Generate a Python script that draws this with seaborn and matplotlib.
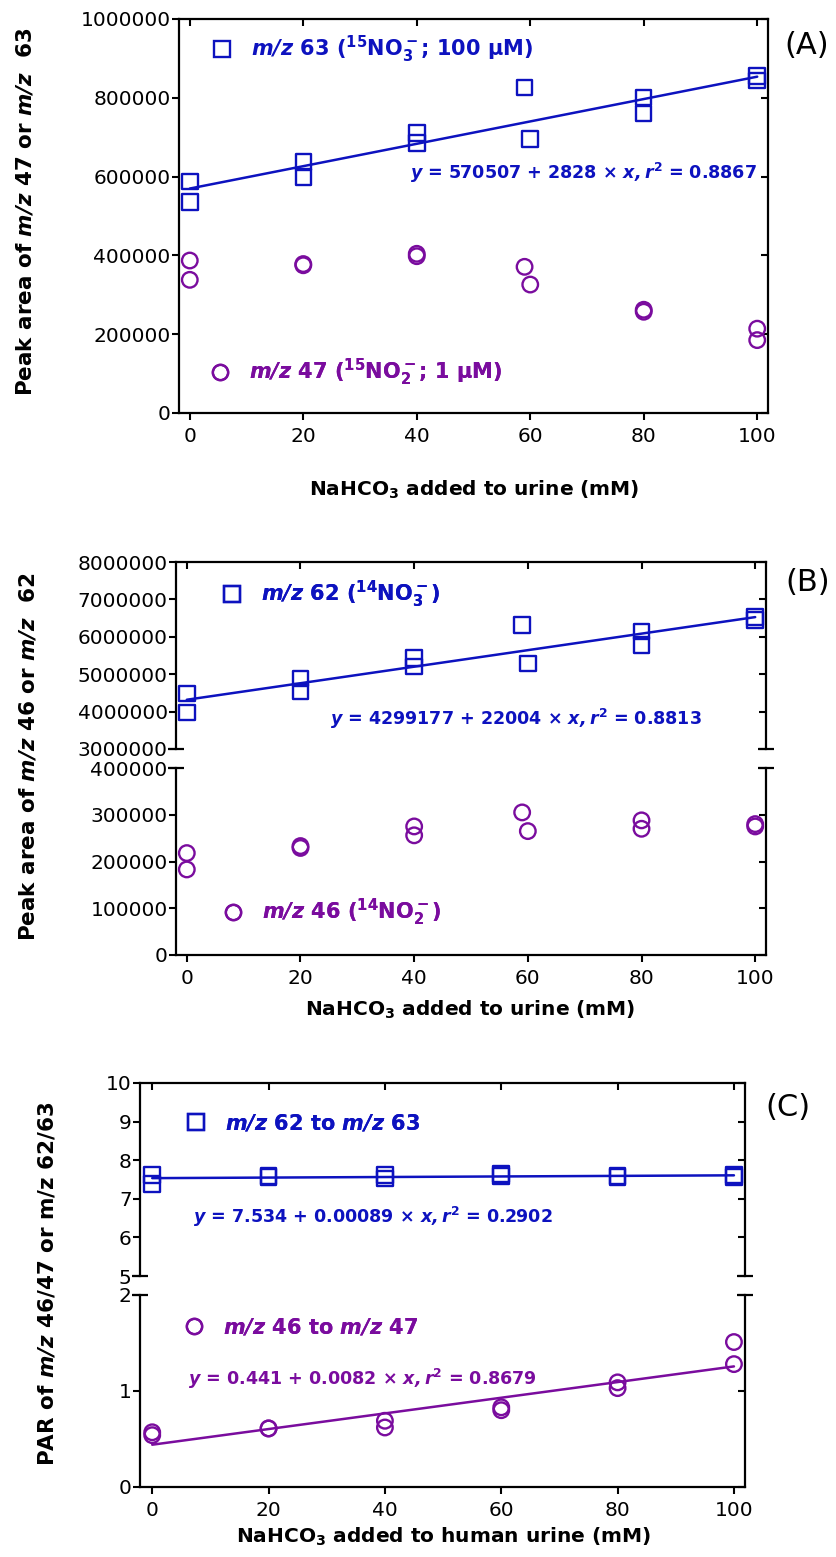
import numpy as np
import pandas as pd
import matplotlib
matplotlib.use('Agg')
import matplotlib.pyplot as plt
from matplotlib.lines import Line2D
from matplotlib.ticker import StrMethodFormatter
import seaborn as sns

# ---- data ----
conc = [0, 0, 20, 20, 40, 40, 59, 60, 80, 80, 100, 100]

# (A) 15N spiked urine
a_mz63 = [588000, 536000, 637000, 599000, 710000, 685000, 826000, 695000, 801000, 760000, 856000, 844000]
a_mz47 = [387000, 338000, 378000, 375000, 404000, 398000, 371000, 326000, 262000, 257000, 214000, 185000]

# (B) endogenous 14N
b_mz62 = [4490000, 3980000, 4890000, 4540000, 5440000, 5200000, 6310000, 5290000, 6140000, 5780000, 6530000, 6450000]
b_mz46 = [218000, 183000, 233000, 229000, 275000, 256000, 305000, 265000, 288000, 270000, 280000, 275000]

# (C) peak area ratios
conc_c = [0, 0, 20, 20, 40, 40, 60, 60, 80, 80, 100, 100]
c_62_63 = [7.62, 7.38, 7.59, 7.56, 7.61, 7.53, 7.64, 7.59, 7.57, 7.59, 7.61, 7.57]
c_46_47 = [0.57, 0.54, 0.61, 0.61, 0.69, 0.62, 0.83, 0.80, 1.09, 1.03, 1.51, 1.28]

x_ticks = [0, 20, 40, 60, 80, 100]

BLUE = '#0D12BF'
PURPLE = '#7A0C9E'

sns.set_theme(style='ticks')
plt.rcParams['font.family'] = ['DejaVu Sans']
plt.rcParams['mathtext.fontset'] = 'dejavusans'
plt.rcParams['mathtext.default'] = 'bf'
plt.rcParams['axes.linewidth'] = 1.6
plt.rcParams['axes.edgecolor'] = 'black'
plt.rcParams['text.color'] = 'black'
plt.rcParams['axes.labelcolor'] = 'black'
plt.rcParams['xtick.color'] = 'black'
plt.rcParams['ytick.color'] = 'black'

W, H = 837, 1557
fig = plt.figure(figsize=(W / 100, H / 100), dpi=100)

LABEL_FS = 15.5
XLAB_FS = 14.5
TICK_FS = 14.5


def px_axes(x0, y0, x1, y1):
    return fig.add_axes([x0 / W, 1 - y1 / H, (x1 - x0) / W, (y1 - y0) / H])


def style_ax(ax, top=True, bottom=True, xlabels=True):
    ax.set_facecolor('white')
    for s in ax.spines.values():
        s.set_linewidth(1.6)
        s.set_color('black')
    ax.spines['top'].set_visible(top)
    ax.spines['bottom'].set_visible(bottom)
    ax.tick_params(axis='y', which='both', left=True, right=False, direction='out',
                   length=5, width=1.5, labelsize=TICK_FS, pad=1, colors='black')
    ax.tick_params(axis='x', which='both', bottom=bottom, top=False, direction='out',
                   length=5, width=1.5, labelsize=TICK_FS, pad=5, labelbottom=xlabels)
    ax.set_xlim(-1.9, 101.9)
    ax.set_xticks(x_ticks)
    ax.yaxis.set_major_formatter(StrMethodFormatter('{x:.0f}'))
    # mirrored inward ticks on the right and top
    sec_y = ax.secondary_yaxis('right')
    sec_y.set_yticks(ax.get_yticks())
    sec_y.tick_params(direction='in', length=5, width=1.5, labelright=False)
    sec_y.spines['right'].set_visible(False)
    if top:
        sec_x = ax.secondary_xaxis('top')
        sec_x.set_xticks(x_ticks)
        sec_x.tick_params(direction='in', length=5, width=1.5, labeltop=False)
        sec_x.spines['top'].set_visible(False)
    ax.set_xlabel('')
    ax.set_ylabel('')


def caps(ax, y):
    d = 8 / (ax.get_position().width * W)
    for x in (0, 1):
        ax.plot([x - d, x + d], [y, y], transform=ax.transAxes, color='black',
                lw=1.6, clip_on=False, solid_capstyle='butt')


def scatter(ax, x, y, marker, color):
    sns.scatterplot(x=x, y=y, ax=ax, marker=marker, s=125, facecolor='none',
                    edgecolor=color, linewidth=1.7, zorder=3, legend=False)


def fitline(ax, x, y, color):
    sns.regplot(x=x, y=y, ax=ax, scatter=False, ci=None, color=color,
                line_kws={'lw': 1.8, 'zorder': 2})


def key(ax, marker, color, label, x, y, fs=15):
    h = Line2D([], [], marker=marker, ls='none', mfc='none', mec=color, ms=11, mew=1.7)
    leg = ax.legend(handles=[h], labels=[label], loc='center left',
                    bbox_to_anchor=(x / W, 1 - y / H), bbox_transform=fig.transFigure,
                    frameon=False, handlelength=1.0, handletextpad=0.85, borderpad=0,
                    borderaxespad=0, prop={'size': fs, 'weight': 'bold'})
    leg.get_texts()[0].set_color(color)
    ax.add_artist(leg)


def eq(ax, text, x, y, color):
    fig.text(x / W, 1 - y / H, text, color=color, fontsize=12.6, fontweight='bold',
             ha='left', va='center')


# ---------------- (A) ----------------
axA = px_axes(179, 19, 768, 413)
scatter(axA, conc, a_mz63, 's', BLUE)
scatter(axA, conc, a_mz47, 'o', PURPLE)
fitline(axA, conc, a_mz63, BLUE)
axA.set_ylim(0, 1000000)
axA.set_yticks(np.arange(0, 1000001, 200000))
style_ax(axA)
key(axA, 's', BLUE, r'$\mathbfit{m/z}$ 63 ($^{15}$NO$_3^-$; 100 μM)', 212, 49)
key(axA, 'o', PURPLE, r'$\mathbfit{m/z}$ 47 ($^{15}$NO$_2^-$; 1 μM)', 210, 372)
eq(axA, r'$\mathbfit{y}$ = 570507 + 2828 × $\mathbfit{x, r}^2$ = 0.8867', 410, 173, BLUE)
fig.text(474 / W, 1 - 490 / H, r'NaHCO$_3$ added to urine (mM)', fontsize=XLAB_FS,
         fontweight='bold', ha='center', va='center')
fig.text(25 / W, 1 - 212 / H, r'Peak area of $\mathbfit{m/z}$ 47 or $\mathbfit{m/z}$  63',
         rotation=90, fontsize=LABEL_FS, fontweight='bold', ha='center', va='center')
fig.text(807 / W, 1 - 45 / H, '(A)', fontsize=22, ha='center', va='center')

# ---------------- (B) ----------------
axB1 = px_axes(176, 562, 766, 749)
axB2 = px_axes(176, 768, 766, 955)
scatter(axB1, conc, b_mz62, 's', BLUE)
fitline(axB1, conc, b_mz62, BLUE)
axB1.set_ylim(3000000, 8000000)
axB1.set_yticks(np.arange(3000000, 8000001, 1000000))
style_ax(axB1, top=True, bottom=False, xlabels=False)
caps(axB1, 0)
scatter(axB2, conc, b_mz46, 'o', PURPLE)
axB2.set_ylim(0, 400000)
axB2.set_yticks(np.arange(0, 400001, 100000))
style_ax(axB2, top=False, bottom=True)
caps(axB2, 1)
key(axB1, 's', BLUE, r'$\mathbfit{m/z}$ 62 ($^{14}$NO$_3^-$)', 222, 594)
key(axB2, 'o', PURPLE, r'$\mathbfit{m/z}$ 46 ($^{14}$NO$_2^-$)', 223, 912)
eq(axB1, r'$\mathbfit{y}$ = 4299177 + 22004 × $\mathbfit{x, r}^2$ = 0.8813', 330, 719, BLUE)
fig.text(470 / W, 1 - 1010 / H, r'NaHCO$_3$ added to urine (mM)', fontsize=XLAB_FS,
         fontweight='bold', ha='center', va='center')
fig.text(28 / W, 1 - 757 / H, r'Peak area of $\mathbfit{m/z}$ 46 or $\mathbfit{m/z}$  62',
         rotation=90, fontsize=LABEL_FS, fontweight='bold', ha='center', va='center')
fig.text(808 / W, 1 - 583 / H, '(B)', fontsize=22, ha='center', va='center')

# ---------------- (C) ----------------
axC1 = px_axes(140, 1083, 745, 1276)
axC2 = px_axes(140, 1295, 745, 1487)
scatter(axC1, conc_c, c_62_63, 's', BLUE)
fitline(axC1, conc_c, c_62_63, BLUE)
axC1.set_ylim(5, 10)
axC1.set_yticks(np.arange(5, 11, 1))
style_ax(axC1, top=True, bottom=False, xlabels=False)
axC1.set_xlim(-2.1, 101.9)
caps(axC1, 0)
scatter(axC2, conc_c, c_46_47, 'o', PURPLE)
fitline(axC2, conc_c, c_46_47, PURPLE)
axC2.set_ylim(0, 2)
axC2.set_yticks([0, 1, 2])
style_ax(axC2, top=False, bottom=True)
axC2.set_xlim(-2.1, 101.9)
caps(axC2, 1)
key(axC1, 's', BLUE, r'$\mathbfit{m/z}$ 62 to $\mathbfit{m/z}$ 63', 186, 1123)
key(axC2, 'o', PURPLE, r'$\mathbfit{m/z}$ 46 to $\mathbfit{m/z}$ 47', 184, 1327)
eq(axC1, r'$\mathbfit{y}$ = 7.534 + 0.00089 × $\mathbfit{x, r}^2$ = 0.2902', 193, 1217, BLUE)
eq(axC2, r'$\mathbfit{y}$ = 0.441 + 0.0082 × $\mathbfit{x, r}^2$ = 0.8679', 188, 1379, PURPLE)
fig.text(443 / W, 1 - 1537 / H, r'NaHCO$_3$ added to human urine (mM)', fontsize=XLAB_FS,
         fontweight='bold', ha='center', va='center')
fig.text(47 / W, 1 - 1284 / H, r'PAR of $\mathbfit{m/z}$ 46/47 or m/z 62/63',
         rotation=90, fontsize=LABEL_FS, fontweight='bold', ha='center', va='center')
fig.text(788 / W, 1 - 1107 / H, '(C)', fontsize=22, ha='center', va='center')

fig.savefig('out.png', dpi=100, facecolor='white')
